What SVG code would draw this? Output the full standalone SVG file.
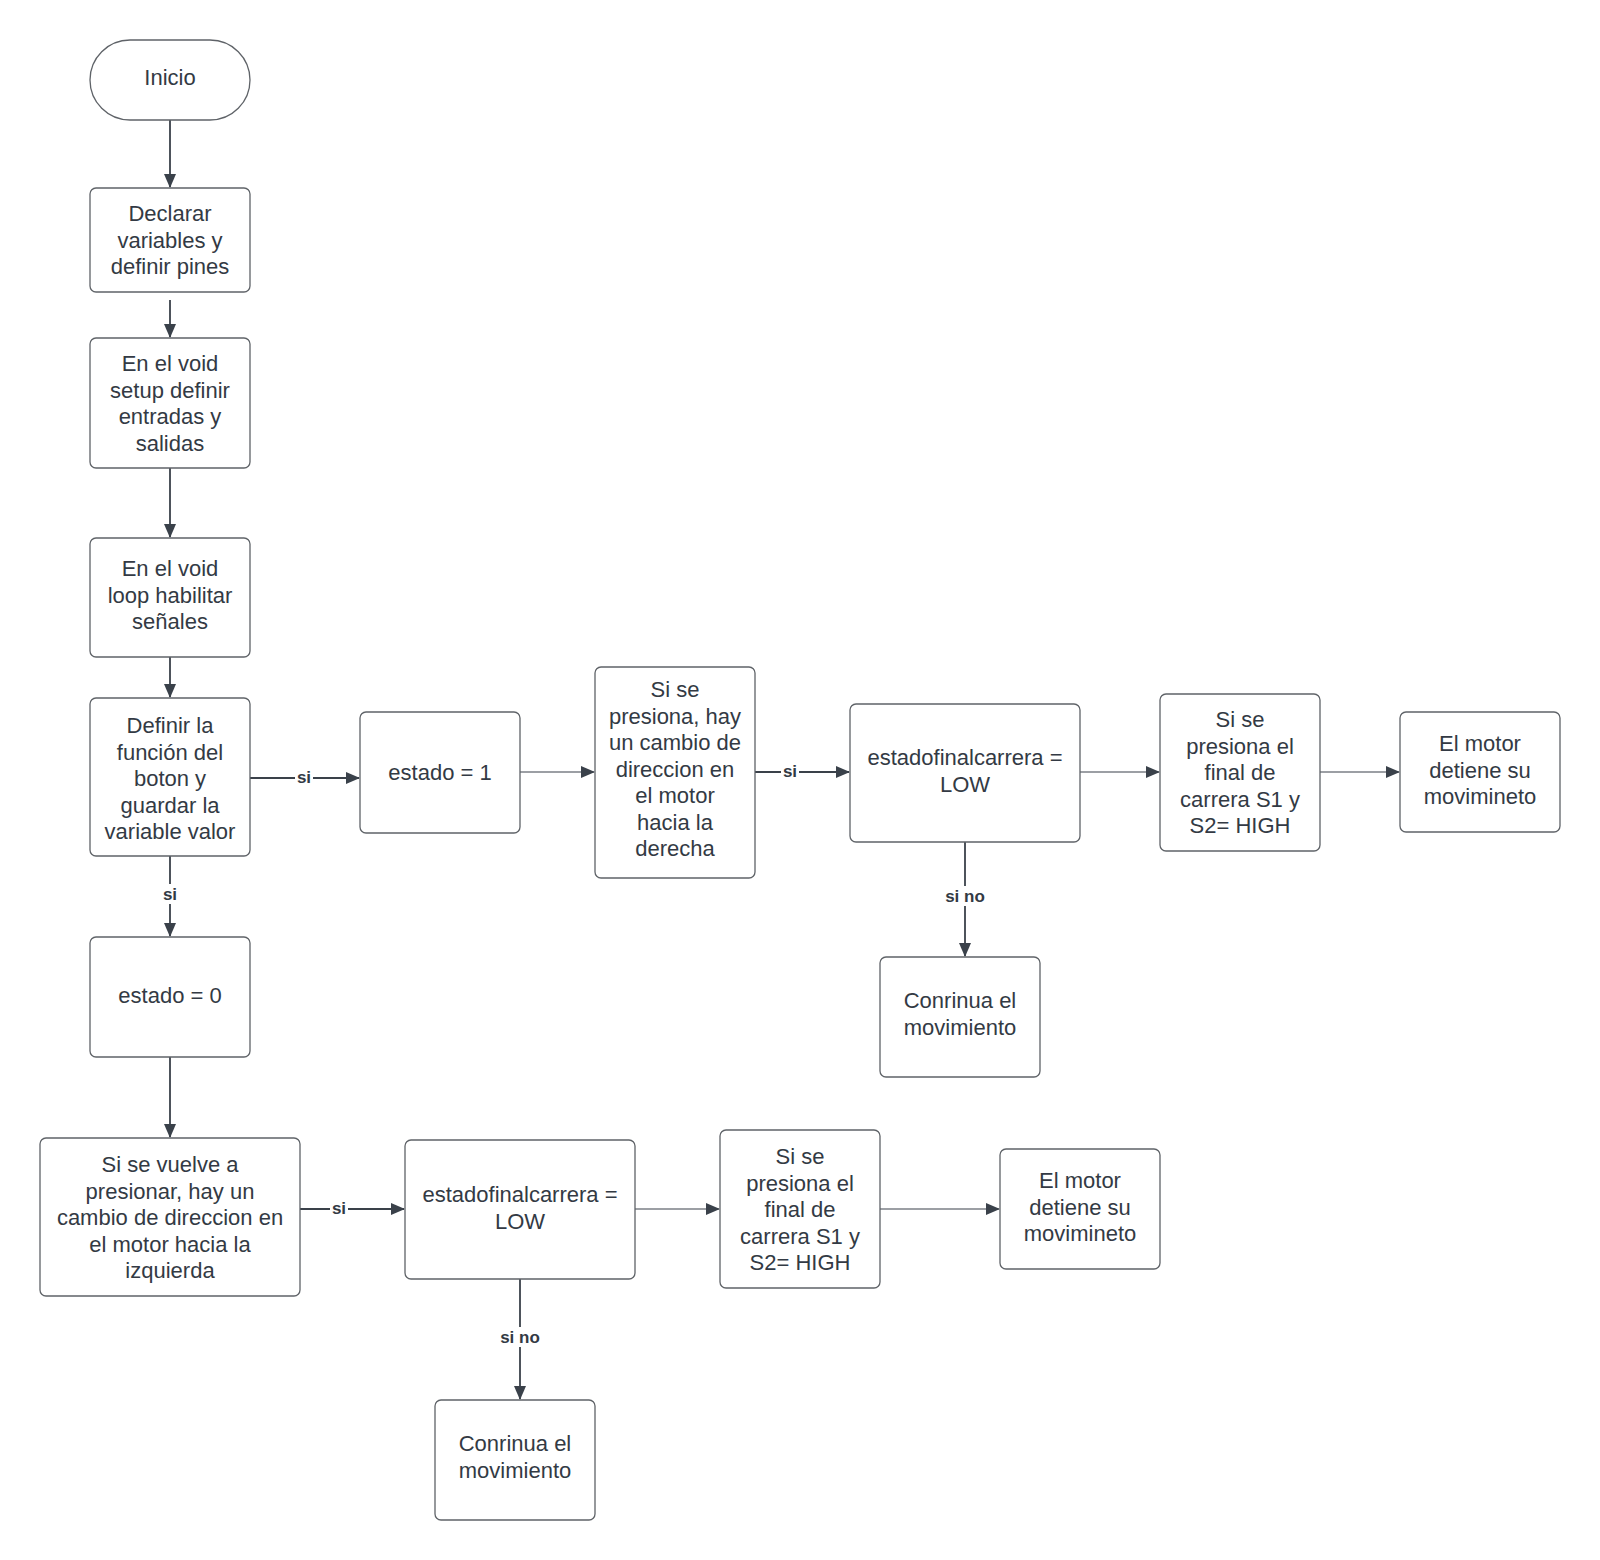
<svg xmlns="http://www.w3.org/2000/svg" width="1600" height="1560" viewBox="0 0 1600 1560">
<defs>
<style>
.n{fill:#ffffff;stroke:#5f6368;stroke-width:1.3}
.t{font-family:"Liberation Sans",Arial,sans-serif;font-size:22px;fill:#333a44;text-anchor:middle}
.c{fill:none;stroke:#3a414a;stroke-width:1.8}
.c1{fill:none;stroke:#3a414a;stroke-width:1.1}
.lb{font-family:"Liberation Sans",Arial,sans-serif;font-size:17px;font-weight:bold;fill:#333a44;text-anchor:middle}
.bg{fill:#ffffff}
</style>
<marker id="ah" markerWidth="14" markerHeight="12" refX="13" refY="6" orient="auto" markerUnits="userSpaceOnUse">
<path d="M0,0 L14,6 L0,12 Z" fill="#3a414a"/>
</marker>
</defs>
<rect width="1600" height="1560" fill="#ffffff"/>

<g id="connectors">
<line class="c" x1="170" y1="120" x2="170" y2="187" marker-end="url(#ah)"/>
<line class="c" x1="170" y1="300" x2="170" y2="337" marker-end="url(#ah)"/>
<line class="c" x1="170" y1="468" x2="170" y2="537" marker-end="url(#ah)"/>
<line class="c" x1="170" y1="657" x2="170" y2="697" marker-end="url(#ah)"/>
<line class="c" x1="250" y1="778" x2="359" y2="778" marker-end="url(#ah)"/>
<line class="c" x1="170" y1="856" x2="170" y2="936" marker-end="url(#ah)"/>
<line class="c1" x1="520" y1="772" x2="594" y2="772" marker-end="url(#ah)"/>
<line class="c" x1="755" y1="772" x2="849" y2="772" marker-end="url(#ah)"/>
<line class="c1" x1="1080" y1="772" x2="1159" y2="772" marker-end="url(#ah)"/>
<line class="c1" x1="1320" y1="772" x2="1399" y2="772" marker-end="url(#ah)"/>
<line class="c" x1="965" y1="842" x2="965" y2="956" marker-end="url(#ah)"/>
<line class="c" x1="170" y1="1057" x2="170" y2="1137" marker-end="url(#ah)"/>
<line class="c" x1="300" y1="1209" x2="404" y2="1209" marker-end="url(#ah)"/>
<line class="c1" x1="635" y1="1209" x2="719" y2="1209" marker-end="url(#ah)"/>
<line class="c1" x1="880" y1="1209" x2="999" y2="1209" marker-end="url(#ah)"/>
<line class="c" x1="520" y1="1279" x2="520" y2="1399" marker-end="url(#ah)"/>

<rect class="bg" x="295" y="768" width="18" height="18"/>
<text class="lb" x="304" y="783">si</text>
<rect class="bg" x="781" y="762" width="18" height="18"/>
<text class="lb" x="790" y="777">si</text>
<rect class="bg" x="161" y="884" width="18" height="20"/>
<text class="lb" x="170" y="900">si</text>
<rect class="bg" x="330" y="1199" width="18" height="18"/>
<text class="lb" x="339" y="1214">si</text>
<rect class="bg" x="942" y="886" width="46" height="20"/>
<text class="lb" x="965" y="902">si no</text>
<rect class="bg" x="497" y="1327" width="46" height="20"/>
<text class="lb" x="520" y="1343">si no</text>
</g>

<g id="inicio">
<rect class="n" x="90" y="40" width="160" height="80" rx="40"/>
<text class="t" x="170" y="84.5">Inicio</text>
</g>
<g id="declarar">
<rect class="n" x="90" y="188" width="160" height="104" rx="6"/>
<text class="t" x="170" y="221">Declarar</text>
<text class="t" x="170" y="247.5">variables y</text>
<text class="t" x="170" y="274">definir pines</text>
</g>
<g id="setup">
<rect class="n" x="90" y="338" width="160" height="130" rx="6"/>
<text class="t" x="170" y="371">En el void</text>
<text class="t" x="170" y="397.5">setup definir</text>
<text class="t" x="170" y="424">entradas y</text>
<text class="t" x="170" y="450.5">salidas</text>
</g>
<g id="loop">
<rect class="n" x="90" y="538" width="160" height="119" rx="6"/>
<text class="t" x="170" y="576">En el void</text>
<text class="t" x="170" y="602.5">loop habilitar</text>
<text class="t" x="170" y="629">señales</text>
</g>
<g id="definir">
<rect class="n" x="90" y="698" width="160" height="158" rx="6"/>
<text class="t" x="170" y="733">Definir la</text>
<text class="t" x="170" y="759.5">función del</text>
<text class="t" x="170" y="786">boton y</text>
<text class="t" x="170" y="812.5">guardar la</text>
<text class="t" x="170" y="839">variable valor</text>
</g>
<g id="estado1">
<rect class="n" x="360" y="712" width="160" height="121" rx="6"/>
<text class="t" x="440" y="780">estado = 1</text>
</g>
<g id="derecha">
<rect class="n" x="595" y="667" width="160" height="211" rx="6"/>
<text class="t" x="675" y="697">Si se</text>
<text class="t" x="675" y="723.5">presiona, hay</text>
<text class="t" x="675" y="750">un cambio de</text>
<text class="t" x="675" y="776.5">direccion en</text>
<text class="t" x="675" y="803">el motor</text>
<text class="t" x="675" y="829.5">hacia la</text>
<text class="t" x="675" y="856">derecha</text>
</g>
<g id="efc1">
<rect class="n" x="850" y="704" width="230" height="138" rx="6"/>
<text class="t" x="965" y="765">estadofinalcarrera =</text>
<text class="t" x="965" y="791.5">LOW</text>
</g>
<g id="final1">
<rect class="n" x="1160" y="694" width="160" height="157" rx="6"/>
<text class="t" x="1240" y="727">Si se</text>
<text class="t" x="1240" y="753.5">presiona el</text>
<text class="t" x="1240" y="780">final de</text>
<text class="t" x="1240" y="806.5">carrera S1 y</text>
<text class="t" x="1240" y="833">S2= HIGH</text>
</g>
<g id="motor1">
<rect class="n" x="1400" y="712" width="160" height="120" rx="6"/>
<text class="t" x="1480" y="751">El motor</text>
<text class="t" x="1480" y="777.5">detiene su</text>
<text class="t" x="1480" y="804">movimineto</text>
</g>
<g id="continua1">
<rect class="n" x="880" y="957" width="160" height="120" rx="6"/>
<text class="t" x="960" y="1008">Conrinua el</text>
<text class="t" x="960" y="1034.5">movimiento</text>
</g>
<g id="estado0">
<rect class="n" x="90" y="937" width="160" height="120" rx="6"/>
<text class="t" x="170" y="1003">estado = 0</text>
</g>
<g id="izquierda">
<rect class="n" x="40" y="1138" width="260" height="158" rx="6"/>
<text class="t" x="170" y="1172">Si se vuelve a</text>
<text class="t" x="170" y="1198.5">presionar, hay un</text>
<text class="t" x="170" y="1225">cambio de direccion en</text>
<text class="t" x="170" y="1251.5">el motor hacia la</text>
<text class="t" x="170" y="1278">izquierda</text>
</g>
<g id="efc2">
<rect class="n" x="405" y="1140" width="230" height="139" rx="6"/>
<text class="t" x="520" y="1202">estadofinalcarrera =</text>
<text class="t" x="520" y="1228.5">LOW</text>
</g>
<g id="final2">
<rect class="n" x="720" y="1130" width="160" height="158" rx="6"/>
<text class="t" x="800" y="1164">Si se</text>
<text class="t" x="800" y="1190.5">presiona el</text>
<text class="t" x="800" y="1217">final de</text>
<text class="t" x="800" y="1243.5">carrera S1 y</text>
<text class="t" x="800" y="1270">S2= HIGH</text>
</g>
<g id="motor2">
<rect class="n" x="1000" y="1149" width="160" height="120" rx="6"/>
<text class="t" x="1080" y="1188">El motor</text>
<text class="t" x="1080" y="1214.5">detiene su</text>
<text class="t" x="1080" y="1241">movimineto</text>
</g>
<g id="continua2">
<rect class="n" x="435" y="1400" width="160" height="120" rx="6"/>
<text class="t" x="515" y="1451">Conrinua el</text>
<text class="t" x="515" y="1477.5">movimiento</text>
</g>
</svg>
